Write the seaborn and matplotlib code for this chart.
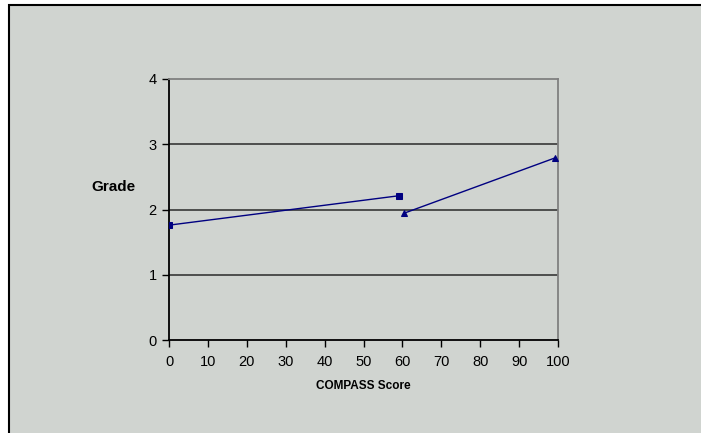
import matplotlib
matplotlib.use("Agg")
import matplotlib.pyplot as plt
import seaborn as sns
import pandas as pd
from matplotlib.patches import Rectangle

# data
below_x = [0, 59]
below_y = [1.76, 2.21]
above_x = [60.3, 99.2]
above_y = [1.94, 2.79]
x_ticks = [0, 10, 20, 30, 40, 50, 60, 70, 80, 90, 100]
y_ticks = [0, 1, 2, 3, 4]

df = pd.DataFrame({
    'score': below_x + above_x,
    'grade': below_y + above_y,
    'group': ['below'] * len(below_x) + ['above'] * len(above_x),
})

sns.set_style("white")
plt.rcParams['font.family'] = ['Liberation Sans', 'DejaVu Sans']
plt.rcParams['text.color'] = 'black'

bg = '#D0D4D0'
navy = '#000080'

fig = plt.figure(figsize=(7.01, 4.33), dpi=100)
fig.patch.set_facecolor('white')
# chart area panel with black top/left border
fig.patches.append(Rectangle((9 / 701, -0.05), 1.0, 1.05 - 5 / 433,
                             transform=fig.transFigure, facecolor=bg,
                             edgecolor='black', linewidth=1.5, zorder=-5))

ax = fig.add_axes([169 / 701, 1 - 340 / 433, (558 - 169) / 701, (340 - 79) / 433])
ax.set_facecolor(bg)

sns.lineplot(data=df, x='score', y='grade', hue='group', style='group',
             markers={'below': 's', 'above': '^'}, dashes=False,
             palette={'below': navy, 'above': navy}, markersize=4,
             markeredgecolor=navy, linewidth=1, legend=False, ax=ax, zorder=3)

ax.set_xlim(0, 100)
ax.set_ylim(0, 4)
ax.set_xticks(x_ticks)
ax.set_yticks(y_ticks)
ax.tick_params(axis='both', direction='out', length=5, width=1, color='black',
               labelsize=10.5, labelcolor='black', bottom=True, left=True)
ax.tick_params(axis='x', pad=6)
ax.tick_params(axis='y', pad=4)

for v in [1, 2, 3]:
    ax.axhline(v, color='#2a2a2a', linewidth=1.1, zorder=1)

ax.spines['left'].set_color('black')
ax.spines['bottom'].set_color('black')
ax.spines['top'].set_color('#808080')
ax.spines['right'].set_color('#808080')
for s in ax.spines.values():
    s.set_linewidth(1.3)
    s.set_visible(True)

ax.set_xlabel('COMPASS Score', fontsize=8.5, fontweight='bold', labelpad=8, color='black')
ax.set_ylabel('')
fig.text(113 / 701, 1 - 187 / 433, 'Grade', fontsize=11, fontweight='bold',
         ha='center', va='center', color='black')

fig.savefig('out.png', dpi=100, facecolor='white')
